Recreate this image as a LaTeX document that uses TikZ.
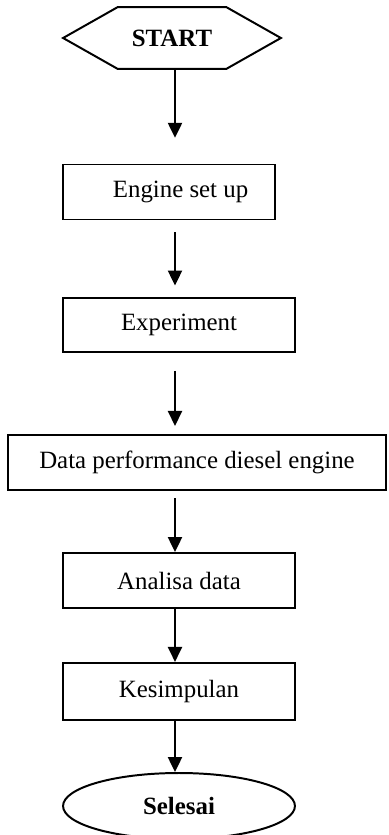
\documentclass[tikz,border=0pt]{standalone}
\usepackage{fontspec}
\setmainfont{Liberation Serif}
\usetikzlibrary{shapes.symbols,shapes.geometric,arrows.meta}
\tikzset{
  stepbox/.style={draw,line width=0.9pt,inner sep=2pt,minimum height=25pt},
  flow/.style={line width=0.9pt,-{Triangle[length=6.8pt,width=6.4pt]}}
}
\begin{document}
\begin{tikzpicture}[x=0.4545pt,y=-0.4545pt,font=\fontsize{11.3}{13.6}\selectfont]
	\useasboundingbox (0,0) rectangle (388,835);
	\coordinate (axis) at (175,0);
	%%%
	\node[signal,signal to=west and east,signal pointer angle=59,draw,line width=0.9pt,
	      minimum width=99pt,minimum height=28pt,font=\fontsize{11.3}{13.6}\selectfont\bfseries] (start) at (172,38) {START};
	\node[stepbox,minimum width=96.4pt] (engine) at (169,192) {\hspace*{10.5pt}Engine set up};
	\node[stepbox,minimum width=105.4pt,minimum height=24.5pt] (experiment) at (179,325) {Experiment};
	\node[stepbox,minimum width=171.8pt] (data) at (197,462.5) {Data performance diesel engine};
	\node[stepbox,minimum width=105.4pt] (analisa) at (179,580.5) {Analisa data};
	\node[stepbox,minimum width=105.4pt,minimum height=26pt] (kesimpulan) at (179,691.5) {Kesimpulan};
	\node[ellipse,draw,line width=0.9pt,minimum width=105.4pt,minimum height=30pt,
	      font=\fontsize{11.3}{13.6}\selectfont\bfseries] (selesai) at (179,806) {Selesai};
	%%%
	\draw[flow] (start.south -| axis) -- ++(0,68);
	\draw[flow] (engine.south -| axis) ++(0,12) -- ++(0,53);
	\draw[flow] (experiment.south -| axis) ++(0,18) -- ++(0,55);
	\draw[flow] (data.south -| axis) ++(0,7) -- (analisa.north -| axis);
	\draw[flow] (analisa.south -| axis) -- (kesimpulan.north -| axis);
	\draw[flow] (kesimpulan.south -| axis) -- (selesai.north -| axis);
\end{tikzpicture}
\end{document}
